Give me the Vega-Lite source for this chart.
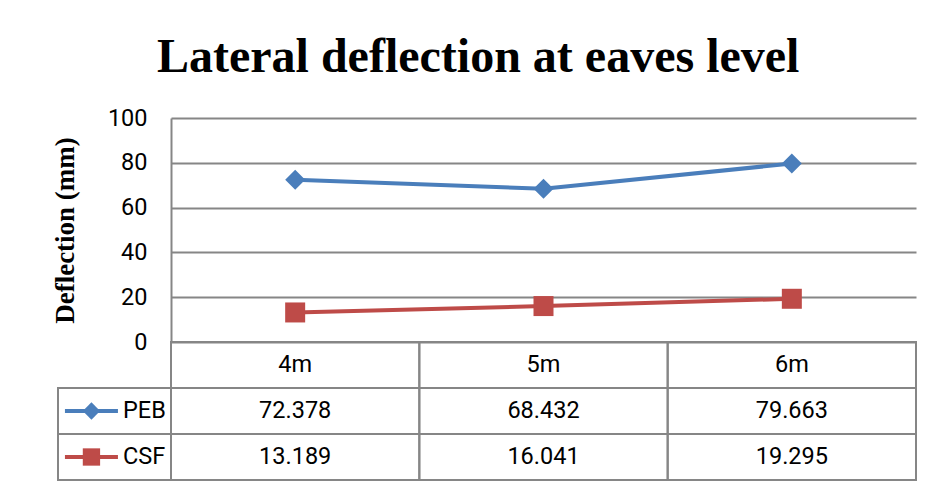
{
  "$schema": "https://vega.github.io/schema/vega-lite/v6.json",
  "width": 745,
  "height": 362,
  "autosize": {"type": "none"},
  "padding": {"left": 171, "top": 118, "right": 23, "bottom": 10},
  "background": "white",
  "config": {"view": {"stroke": null}, "font": "Roboto"},
  "title": {
    "text": "Lateral deflection at eaves level",
    "font": "Liberation Serif",
    "fontSize": 48,
    "fontWeight": "bold",
    "color": "black",
    "anchor": "middle",
    "frame": "bounds",
    "offset": 24,
    "dx": -6
  },
  "datasets": {
    "data": [
      {"length": "4m", "series": "PEB", "deflection": 72.378},
      {"length": "5m", "series": "PEB", "deflection": 68.432},
      {"length": "6m", "series": "PEB", "deflection": 79.663},
      {"length": "4m", "series": "CSF", "deflection": 13.189},
      {"length": "5m", "series": "CSF", "deflection": 16.041},
      {"length": "6m", "series": "CSF", "deflection": 19.295}
    ],
    "header": [{"length": "4m"}, {"length": "5m"}, {"length": "6m"}],
    "legendRows": [{"series": "PEB"}, {"series": "CSF"}]
  },
  "layer": [
    {
      "data": {"name": "data"},
      "mark": {"type": "line", "strokeWidth": 4},
      "encoding": {
        "x": {"field": "length", "type": "nominal", "bandPosition": 0.5, "scale": {"type": "band", "domain": ["4m", "5m", "6m"], "paddingInner": 0, "paddingOuter": 0}, "axis": null},
        "y": {
          "field": "deflection", "type": "quantitative",
          "scale": {"domain": [0, 100], "range": [224, 0], "nice": false, "zero": true},
          "axis": {
            "values": [0, 20, 40, 60, 80, 100],
            "grid": true, "gridColor": "#868686", "gridWidth": 2, "gridOpacity": 1,
            "domain": true, "domainColor": "#868686", "domainWidth": 2,
            "ticks": false, "labelPadding": 24,
            "labelFont": "Roboto", "labelFontSize": 23.5, "labelColor": "black",
            "title": "Deflection (mm)", "titleFont": "Liberation Serif", "titleFontSize": 27,
            "titleFontWeight": "bold", "titleColor": "black", "titlePadding": 28
          }
        },
        "color": {"field": "series", "type": "nominal", "scale": {"domain": ["PEB", "CSF"], "range": ["#4A7EBB", "#BE4B48"]}, "legend": null}
      }
    },
    {
      "data": {"name": "data"},
      "mark": {"type": "point", "filled": true, "opacity": 1, "size": 400},
      "encoding": {
        "x": {"field": "length", "type": "nominal", "bandPosition": 0.5, "scale": {"type": "band", "domain": ["4m", "5m", "6m"], "paddingInner": 0, "paddingOuter": 0}, "axis": null},
        "y": {"field": "deflection", "type": "quantitative", "scale": {"domain": [0, 100], "range": [224, 0], "nice": false}, "axis": null},
        "color": {"field": "series", "type": "nominal", "legend": null},
        "shape": {"field": "series", "type": "nominal", "scale": {"domain": ["PEB", "CSF"], "range": ["diamond", "square"]}, "legend": null}
      }
    },
    {
      "data": {"name": "data"},
      "mark": {"type": "rect", "filled": false, "stroke": "#868686", "strokeWidth": 2},
      "encoding": {
        "x": {"field": "length", "type": "nominal", "scale": {"type": "band", "domain": ["4m", "5m", "6m"], "paddingInner": 0, "paddingOuter": 0}, "axis": null},
        "y": {"field": "series", "type": "nominal", "scale": {"type": "band", "domain": ["header", "PEB", "CSF"], "range": [224, 362], "paddingInner": 0, "paddingOuter": 0}, "axis": null}
      }
    },
    {
      "data": {"name": "header"},
      "mark": {"type": "rect", "filled": false, "stroke": "#868686", "strokeWidth": 2},
      "encoding": {
        "x": {"field": "length", "type": "nominal", "scale": {"type": "band", "domain": ["4m", "5m", "6m"], "paddingInner": 0, "paddingOuter": 0}, "axis": null},
        "y": {"datum": "header", "type": "nominal", "scale": {"type": "band", "domain": ["header", "PEB", "CSF"], "range": [224, 362], "paddingInner": 0, "paddingOuter": 0}, "axis": null}
      }
    },
    {
      "data": {"name": "data"},
      "mark": {"type": "text", "font": "Roboto", "fontSize": 23.5, "color": "black", "align": "center", "baseline": "middle"},
      "encoding": {
        "x": {"field": "length", "type": "nominal", "bandPosition": 0.5, "scale": {"type": "band", "domain": ["4m", "5m", "6m"], "paddingInner": 0, "paddingOuter": 0}, "axis": null},
        "y": {"field": "series", "type": "nominal", "bandPosition": 0.5, "scale": {"type": "band", "domain": ["header", "PEB", "CSF"], "range": [224, 362], "paddingInner": 0, "paddingOuter": 0}, "axis": null},
        "text": {"field": "deflection", "type": "quantitative", "format": ".3f"}
      }
    },
    {
      "data": {"name": "header"},
      "mark": {"type": "text", "font": "Roboto", "fontSize": 23.5, "color": "black", "align": "center", "baseline": "middle"},
      "encoding": {
        "x": {"field": "length", "type": "nominal", "bandPosition": 0.5, "scale": {"type": "band", "domain": ["4m", "5m", "6m"], "paddingInner": 0, "paddingOuter": 0}, "axis": null},
        "y": {"datum": "header", "type": "nominal", "bandPosition": 0.5, "scale": {"type": "band", "domain": ["header", "PEB", "CSF"], "range": [224, 362], "paddingInner": 0, "paddingOuter": 0}, "axis": null},
        "text": {"field": "length", "type": "nominal"}
      }
    },
    {
      "data": {"name": "legendRows"},
      "mark": {"type": "rect", "filled": false, "stroke": "#868686", "strokeWidth": 2},
      "encoding": {
        "x": {"datum": "legend", "type": "nominal", "scale": {"type": "band", "domain": ["legend"], "range": [-113, 0], "paddingInner": 0, "paddingOuter": 0}, "axis": null},
        "y": {"field": "series", "type": "nominal", "scale": {"type": "band", "domain": ["header", "PEB", "CSF"], "range": [224, 362], "paddingInner": 0, "paddingOuter": 0}, "axis": null}
      }
    },
    {
      "data": {"name": "legendRows"},
      "mark": {"type": "point", "shape": "stroke", "filled": false, "size": 2809, "strokeWidth": 4, "opacity": 1},
      "encoding": {
        "x": {"datum": "legend", "type": "nominal", "bandPosition": 0.296, "scale": {"type": "band", "domain": ["legend"], "range": [-113, 0], "paddingInner": 0, "paddingOuter": 0}, "axis": null},
        "y": {"field": "series", "type": "nominal", "bandPosition": 0.5, "scale": {"type": "band", "domain": ["header", "PEB", "CSF"], "range": [224, 362], "paddingInner": 0, "paddingOuter": 0}, "axis": null},
        "color": {"field": "series", "type": "nominal", "legend": null}
      }
    },
    {
      "data": {"name": "legendRows"},
      "mark": {"type": "point", "filled": true, "size": 300, "opacity": 1},
      "encoding": {
        "x": {"datum": "legend", "type": "nominal", "bandPosition": 0.296, "scale": {"type": "band", "domain": ["legend"], "range": [-113, 0], "paddingInner": 0, "paddingOuter": 0}, "axis": null},
        "y": {"field": "series", "type": "nominal", "bandPosition": 0.5, "scale": {"type": "band", "domain": ["header", "PEB", "CSF"], "range": [224, 362], "paddingInner": 0, "paddingOuter": 0}, "axis": null},
        "color": {"field": "series", "type": "nominal", "legend": null},
        "shape": {"field": "series", "type": "nominal", "legend": null}
      }
    },
    {
      "data": {"name": "legendRows"},
      "mark": {"type": "text", "font": "Roboto", "fontSize": 23.5, "color": "black", "align": "left", "baseline": "middle"},
      "encoding": {
        "x": {"datum": "legend", "type": "nominal", "bandPosition": 0.575, "scale": {"type": "band", "domain": ["legend"], "range": [-113, 0], "paddingInner": 0, "paddingOuter": 0}, "axis": null},
        "y": {"field": "series", "type": "nominal", "bandPosition": 0.5, "scale": {"type": "band", "domain": ["header", "PEB", "CSF"], "range": [224, 362], "paddingInner": 0, "paddingOuter": 0}, "axis": null},
        "text": {"field": "series", "type": "nominal"}
      }
    }
  ],
  "resolve": {"scale": {"x": "independent", "y": "independent", "shape": "shared", "color": "shared"}, "axis": {"x": "independent", "y": "independent"}}
}
